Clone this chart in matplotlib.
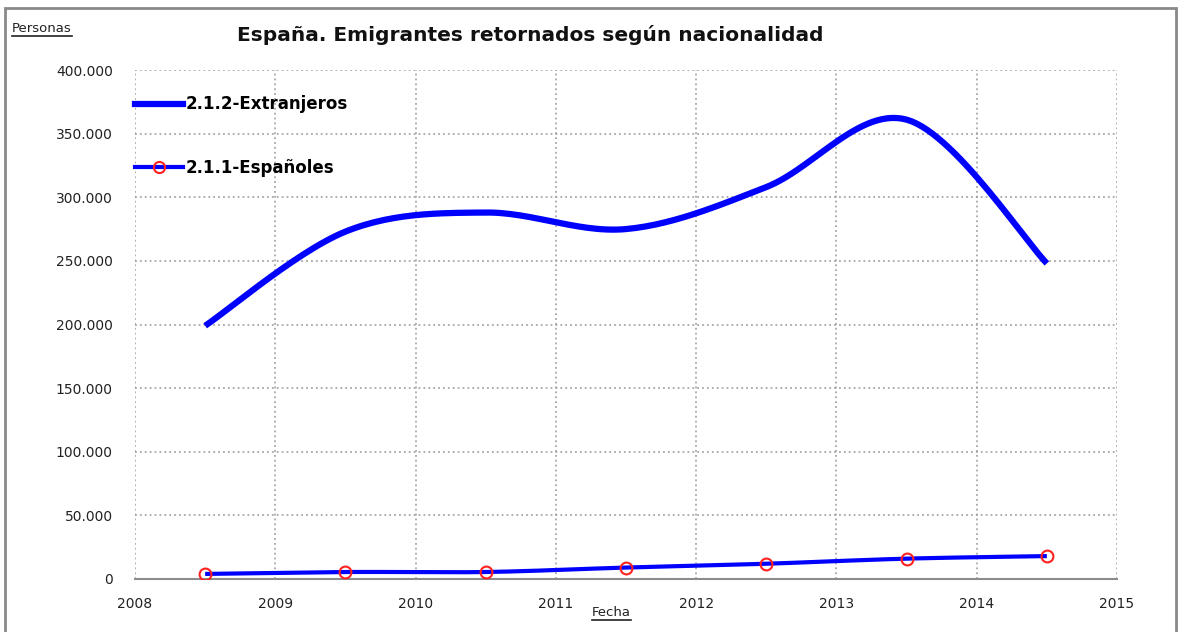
"""España. Emigrantes retornados según nacionalidad."""

import matplotlib

matplotlib.use("Agg")
import matplotlib.pyplot as plt
import numpy as np
from matplotlib.lines import Line2D
from matplotlib.patches import Rectangle
from matplotlib.ticker import FuncFormatter

# %% Data (mid-year points)
years = [2008.5, 2009.5, 2010.5, 2011.5, 2012.5, 2013.5, 2014.5]
extranjeros = [199000, 273000, 288000, 275000, 308000, 361000, 248000]
espanoles = [4000, 5500, 5500, 9000, 12000, 16000, 18000]

x_ticks = [2008, 2009, 2010, 2011, 2012, 2013, 2014, 2015]
y_ticks = [0, 50000, 100000, 150000, 200000, 250000, 300000, 350000, 400000]

title = "España. Emigrantes retornados según nacionalidad"
label_ext = "2.1.2-Extranjeros"
label_esp = "2.1.1-Españoles"

plt.rcParams["font.family"] = ["DejaVu Sans"]


def smooth(x, y, n=30):
    """Excel-like smoothed line (cardinal Bezier through the points)."""
    x = np.asarray(x, float)
    y = np.asarray(y, float)
    px = np.concatenate([[x[0]], x, [x[-1]]])
    py = np.concatenate([[y[0]], y, [y[-1]]])
    xs, ys = [], []
    t = np.linspace(0, 1, n)
    for i in range(1, len(px) - 2):
        p0 = np.array([px[i], py[i]])
        p3 = np.array([px[i + 1], py[i + 1]])
        p1 = p0 + (np.array([px[i + 1], py[i + 1]]) - np.array([px[i - 1], py[i - 1]])) / 6
        p2 = p3 - (np.array([px[i + 2], py[i + 2]]) - np.array([px[i], py[i]])) / 6
        b = (
            np.outer((1 - t) ** 3, p0)
            + np.outer(3 * (1 - t) ** 2 * t, p1)
            + np.outer(3 * (1 - t) * t**2, p2)
            + np.outer(t**3, p3)
        )
        xs.extend(b[:, 0])
        ys.extend(b[:, 1])
    return xs, ys


fig = plt.figure(figsize=(11.79, 6.32), dpi=100)
ax = fig.add_axes([135 / 1179, 53 / 632, 982 / 1179, 509 / 632])

sx, sy = smooth(years, extranjeros)
ax.plot(sx, sy, color="#0000ff", lw=4.5, solid_capstyle="butt", zorder=3)
sx, sy = smooth(years, espanoles)
ax.plot(sx, sy, color="#0000ff", lw=3, solid_capstyle="butt", zorder=3)
ax.plot(
    years, espanoles, ls="none", marker="o", ms=8.5, mfc="none",
    mec="#ff2020", mew=1.5, zorder=4,
)

ax.set_xlim(2008, 2015)
ax.set_ylim(0, 400000)
ax.set_xticks(x_ticks)
ax.set_yticks(y_ticks)
ax.yaxis.set_major_formatter(
    FuncFormatter(lambda v, _: f"{int(v):,}".replace(",", "."))
)
ax.tick_params(axis="both", labelsize=10, colors="#222222", length=0)
ax.tick_params(axis="x", pad=13)
ax.tick_params(axis="y", pad=16)
ax.grid(True, color="#999999", ls=(0, (1.2, 2)), lw=1.1)
for side in ["top", "right", "left"]:
    ax.spines[side].set_visible(False)
ax.spines["bottom"].set_color("#8c8c8c")
ax.spines["bottom"].set_linewidth(1.5)

handles = [
    Line2D([], [], color="#0000ff", lw=4.5),
    Line2D([], [], color="#0000ff", lw=3, marker="o", ms=8, mfc="none",
           mec="#ff2020", mew=1.5),
]
ax.legend(
    handles, [label_ext, label_esp], loc="upper left",
    bbox_to_anchor=(0.0, 0.95), frameon=False, handlelength=2.9,
    handletextpad=0.15, labelspacing=2.75, borderaxespad=0, borderpad=0,
    prop={"size": 12, "weight": "bold"},
)

fig.text(530 / 1179, 1 - 35 / 632, title, ha="center", va="center",
         fontsize=14.5, fontweight="bold", color="#111111")

# Underlined axis captions
fig.canvas.draw()
for txt, xpos, ypos, size in [("Personas", 12, 28, 9.5), ("Fecha", 592, 612, 9.5)]:
    t = fig.text(xpos / 1179, 1 - ypos / 632, txt, ha="left", va="center",
                 fontsize=size, color="#222222")
    bb = t.get_window_extent(fig.canvas.get_renderer())
    fig.add_artist(Line2D([bb.x0 / 1179, bb.x1 / 1179],
                          [(bb.y0 - 1) / 632, (bb.y0 - 1) / 632],
                          transform=fig.transFigure, color="#222222", lw=1.2))

fig.add_artist(Rectangle((5 / 1179, -0.01), 1171 / 1179, 1 - 8 / 632 + 0.01,
                         transform=fig.transFigure, fill=False,
                         ec="#8a8a8a", lw=2))

fig.savefig("out.png", dpi=100)
